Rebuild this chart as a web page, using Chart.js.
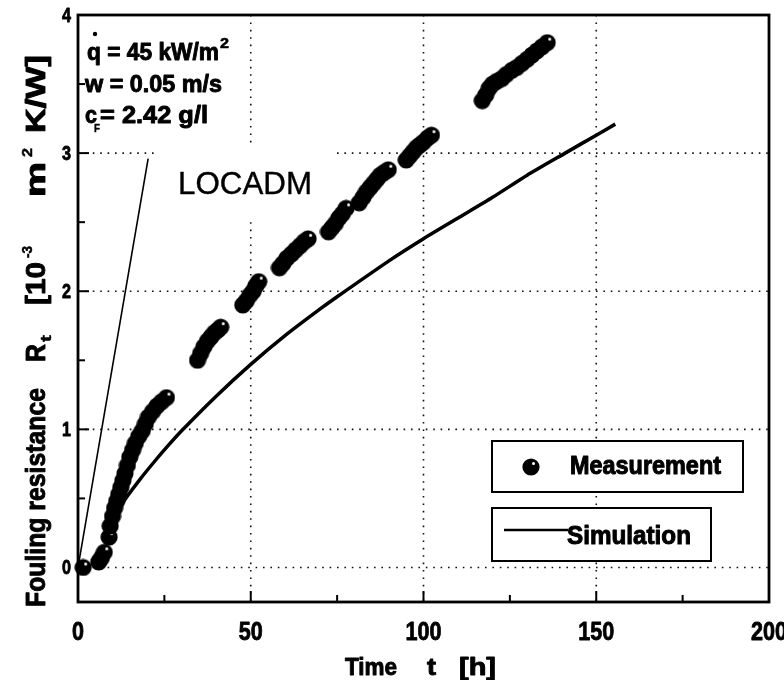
<!DOCTYPE html>
<html>
<head>
<meta charset="utf-8">
<script src="https://cdn.jsdelivr.net/npm/chart.js@4.4.0/dist/chart.umd.min.js"></script>
<style>
body { margin: 0; background: #fff; }
#wrap { width: 784px; height: 680px; }
</style>
</head>
<body>
<div id="wrap"><canvas id="foulingChart" width="784" height="680"></canvas></div>
<script>
// Measurement: time t [h] and fouling resistance R_f [1e-3 m2 K/W]
const measTime = [1.5, 6.0, 6.8, 7.6, 9.0, 9.3, 10.0, 10.6, 11.2, 11.8, 12.4, 13.0, 13.6, 14.3, 15.0, 15.8, 16.6, 17.6, 18.6, 19.5, 20.4, 21.6, 22.9, 24.2, 25.6,
    34.6, 35.5, 36.5, 37.5, 38.5, 39.5, 40.5, 41.3,
    47.7, 48.7, 49.7, 50.7, 51.5, 52.3,
    58.3, 59.3, 60.5, 61.8, 63.0, 64.3, 65.5, 66.6,
    72.5, 73.5, 74.5, 75.5, 76.5, 77.6,
    81.4, 82.5, 83.5, 84.5, 85.5, 86.5, 87.5, 88.6, 89.8,
    95.0, 96.0, 97.0, 98.0, 99.0, 100.0, 101.2, 102.3,
    117.0, 118.0, 119.0, 120.0, 121.2, 122.7, 124.0, 125.6, 127.0, 128.5, 130.0, 131.4, 132.8, 134.3, 135.8];
const measR = [0.00, 0.04, 0.07, 0.11, 0.22, 0.30, 0.37, 0.43, 0.48, 0.53, 0.58, 0.63, 0.68, 0.74, 0.80, 0.85, 0.90, 0.95, 0.99, 1.04, 1.09, 1.13, 1.17, 1.20, 1.23,
    1.50, 1.55, 1.60, 1.64, 1.67, 1.70, 1.72, 1.74,
    1.90, 1.93, 1.97, 2.00, 2.04, 2.07,
    2.17, 2.20, 2.24, 2.27, 2.30, 2.33, 2.36, 2.38,
    2.43, 2.46, 2.49, 2.53, 2.56, 2.60,
    2.64, 2.68, 2.72, 2.75, 2.78, 2.81, 2.84, 2.86, 2.88,
    2.95, 2.98, 3.01, 3.04, 3.06, 3.08, 3.11, 3.13,
    3.38, 3.42, 3.47, 3.50, 3.52, 3.54, 3.57, 3.60, 3.62, 3.65, 3.68, 3.71, 3.74, 3.77, 3.80];

// Simulation curve
const simTime = [9, 12, 14.1, 18, 21.9, 26, 30, 40, 50, 60, 70, 75, 90, 100, 110, 120, 130, 141, 150, 155.5];
const simR = [0.30, 0.43, 0.51, 0.64, 0.76, 0.88, 0.99, 1.24, 1.47, 1.68, 1.87, 1.96, 2.22, 2.38, 2.53, 2.68, 2.84, 3.00, 3.13, 3.21];

// LOCADM straight line
const locadmTime = [0, 20.3];
const locadmR = [0, 2.96];

const xTicks = [0, 50, 100, 150, 200];
const yTicks = [0, 1, 2, 3, 4];

const FONT = '"Liberation Sans", Arial, sans-serif';

function zip(xs, ys) {
    return xs.map((v, i) => ({ x: v, y: ys[i] }));
}

// black dot with a small white highlight
const dotImg = document.createElement('canvas');
dotImg.width = 18;
dotImg.height = 18;
(function () {
    const c = dotImg.getContext('2d');
    c.fillStyle = '#000';
    c.beginPath();
    c.arc(9, 9, 8.6, 0, Math.PI * 2);
    c.fill();
    c.fillStyle = '#fff';
    c.beginPath();
    c.arc(11.5, 5.5, 1.5, 0, Math.PI * 2);
    c.fill();
})();

// draw text squeezed to a given width, optionally thickened
function fitText(ctx, text, x, y, w, font, heavy) {
    ctx.save();
    ctx.font = font;
    const m = ctx.measureText(text).width;
    ctx.translate(x, y);
    ctx.scale(w / m, 1);
    ctx.fillText(text, 0, 0);
    if (heavy) {
        ctx.lineWidth = heavy;
        ctx.lineJoin = 'round';
        ctx.strokeStyle = ctx.fillStyle;
        ctx.strokeText(text, 0, 0);
    }
    ctx.restore();
}

// same, rotated to run upwards from yStart to yEnd
function fitRot(ctx, text, xb, yStart, yEnd, font, heavy) {
    ctx.save();
    ctx.font = font;
    const m = ctx.measureText(text).width;
    ctx.translate(xb, yStart);
    ctx.rotate(-Math.PI / 2);
    ctx.scale((yStart - yEnd) / m, 1);
    ctx.fillText(text, 0, 0);
    if (heavy) {
        ctx.lineWidth = heavy;
        ctx.lineJoin = 'round';
        ctx.strokeStyle = ctx.fillStyle;
        ctx.strokeText(text, 0, 0);
    }
    ctx.restore();
}

function seg(ctx, x1, y1, x2, y2) {
    ctx.beginPath();
    ctx.moveTo(x1, y1);
    ctx.lineTo(x2, y2);
    ctx.stroke();
}

const framePlugin = {
    id: 'frame',
    beforeDatasetsDraw(chart) {
        const { ctx, chartArea: a, scales: { x, y } } = chart;
        ctx.save();

        // dotted grid
        ctx.strokeStyle = '#111';
        ctx.lineWidth = 1.6;
        ctx.setLineDash([1.6, 5.8]);
        xTicks.slice(1, -1).forEach(v => {
            const px = x.getPixelForValue(v);
            seg(ctx, px, a.top, px, a.bottom);
        });
        yTicks.slice(0, -1).forEach(v => {
            const py = y.getPixelForValue(v);
            seg(ctx, a.left, py, a.right, py);
        });
        ctx.setLineDash([]);

        // LOCADM label (white backing hides the grid)
        ctx.fillStyle = '#fff';
        ctx.fillRect(154, 147, 182, 72);
        ctx.fillStyle = '#000';
        fitText(ctx, 'LOCADM', 178, 194, 134, '32px ' + FONT, 0.4);

        // conditions text
        const b23 = 'bold 23px ' + FONT;
        fitText(ctx, 'q = 45 kW/m', 87, 60, 132, b23, 0.9);
        fitText(ctx, '2', 220, 48, 9, 'bold 14px ' + FONT, 0.5);
        ctx.beginPath();
        ctx.arc(95, 34, 2.2, 0, Math.PI * 2);
        ctx.fill();
        fitText(ctx, 'w = 0.05 m/s', 85, 92, 137, b23, 0.9);
        fitText(ctx, 'c', 85, 123, 12, b23, 0.9);
        fitText(ctx, 'F', 94, 132, 6, 'bold 11px ' + FONT, 0.4);
        fitText(ctx, '= 2.42 g/l', 100, 123, 108, b23, 0.9);

        // legend boxes
        ctx.lineWidth = 2;
        ctx.strokeStyle = '#000';
        ctx.fillStyle = '#fff';
        ctx.fillRect(492, 441, 251, 51);
        ctx.strokeRect(492, 441, 251, 51);
        ctx.fillRect(492, 508, 219, 53);
        ctx.strokeRect(492, 508, 219, 53);
        ctx.fillStyle = '#000';
        ctx.drawImage(dotImg, 531 - 9, 467 - 9);
        fitText(ctx, 'Measurement', 570, 474, 151, 'bold 25px ' + FONT, 1);
        ctx.lineWidth = 2.6;
        seg(ctx, 504, 530, 568, 530);
        fitText(ctx, 'Simulation', 567, 544, 124, 'bold 26px ' + FONT, 1);

        // tick marks (inside)
        ctx.lineWidth = 2;
        xTicks.forEach((v, i) => {
            const px = x.getPixelForValue(v);
            if (i > 0 && i < xTicks.length - 1) seg(ctx, px, a.bottom, px, a.bottom - 11);
            if (i < xTicks.length - 1) {
                const pm = x.getPixelForValue((v + xTicks[i + 1]) / 2);
                seg(ctx, pm, a.bottom, pm, a.bottom - 7);
            }
        });
        yTicks.forEach((v, i) => {
            const py = y.getPixelForValue(v);
            if (i > 0 && i < yTicks.length - 1) seg(ctx, a.left, py, a.left + 11, py);
            if (i < yTicks.length - 1) {
                const pm = y.getPixelForValue((v + yTicks[i + 1]) / 2);
                seg(ctx, a.left, pm, a.left + 7, pm);
            }
        });

        // frame
        ctx.lineWidth = 2.8;
        ctx.strokeRect(a.left, a.top, a.right - a.left, a.bottom - a.top);

        // tick labels
        const bt = 'bold 25px ' + FONT;
        xTicks.forEach(v => {
            const s = String(v);
            const w = 12 * s.length;
            fitText(ctx, s, x.getPixelForValue(v) - w / 2, 640, w, bt, 0.8);
        });
        yTicks.forEach(v => {
            const s = String(v);
            fitText(ctx, s, 62, y.getPixelForValue(v) + 7, 9, 'bold 20px ' + FONT, 0.8);
        });

        // x axis title
        const bx = 'bold 24px ' + FONT;
        fitText(ctx, 'Time', 345, 675, 52, bx, 0.9);
        fitText(ctx, 't', 427, 675, 9, bx, 0.9);
        fitText(ctx, '[h]', 459, 675, 37, bx, 0.9);

        // y axis title
        const by = 'bold 27px ' + FONT;
        fitRot(ctx, 'Fouling resistance', 45, 607, 388, by, 0.9);
        fitRot(ctx, 'R', 45, 362, 344, by, 0.9);
        fitRot(ctx, 't', 51, 342, 335, 'bold 15px ' + FONT, 0.5);
        fitRot(ctx, '[10', 45, 305, 262, by, 0.9);
        fitRot(ctx, '-3', 32, 258, 246, 'bold 15px ' + FONT, 0.5);
        fitRot(ctx, 'm', 45, 197, 162, by, 0.9);
        fitRot(ctx, '2', 32, 157, 148, 'bold 15px ' + FONT, 0.5);
        fitRot(ctx, 'K/W]', 45, 133, 55, by, 0.9);

        ctx.restore();
    }
};

const foulingCtx = document.getElementById('foulingChart').getContext('2d');
new Chart(foulingCtx, {
    type: 'scatter',
    data: {
        datasets: [{
            label: 'Measurement',
            data: zip(measTime, measR),
            pointStyle: dotImg,
            pointRadius: 8,
            showLine: false,
            clip: false,
            order: 0
        }, {
            label: 'Simulation',
            data: zip(simTime, simR),
            showLine: true,
            borderColor: '#000',
            borderWidth: 3.5,
            pointRadius: 0,
            tension: 0.2,
            order: 1
        }, {
            label: 'LOCADM',
            data: zip(locadmTime, locadmR),
            showLine: true,
            borderColor: '#000',
            borderWidth: 1.6,
            pointRadius: 0,
            order: 2
        }]
    },
    options: {
        responsive: false,
        animation: false,
        layout: { padding: { left: 78, right: 15, top: 15, bottom: 78 } },
        plugins: {
            legend: { display: false },
            tooltip: { enabled: false }
        },
        scales: {
            x: { type: 'linear', min: xTicks[0], max: xTicks[xTicks.length - 1], display: false },
            y: { type: 'linear', min: -0.25, max: yTicks[yTicks.length - 1], display: false }
        }
    },
    plugins: [framePlugin]
});
</script>
</body>
</html>
